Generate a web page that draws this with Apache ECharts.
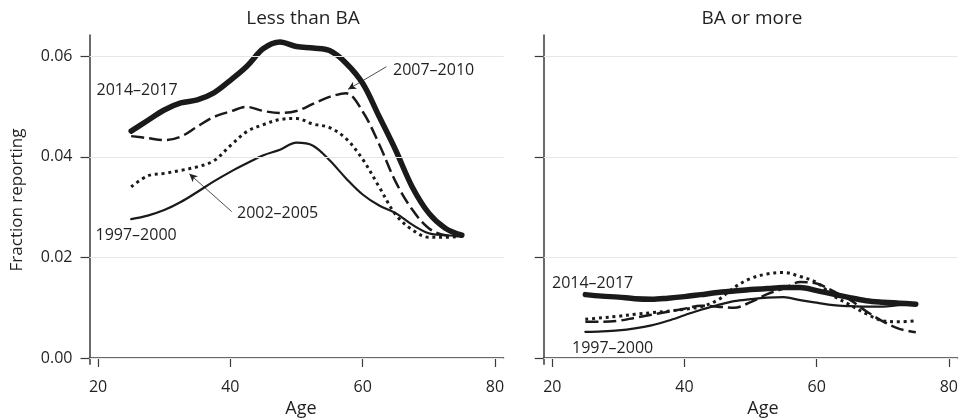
<!DOCTYPE html>
<html>
<head>
<meta charset="utf-8">
<script src="https://cdn.jsdelivr.net/npm/echarts@6/dist/echarts.min.js"></script>
<style>html,body{margin:0;padding:0;background:#fff}#c{width:961px;height:419px}</style>
</head>
<body>
<div id="c"></div>
<script>
var ages = [25,27.5,30,32.5,35,37.5,40,42.5,45,47.5,50,52.5,55,57.5,60,62.5,65,67.5,70,72.5,75];
var panelTitles = ['Less than BA','BA or more'];
var periods = ['1997–2000','2002–2005','2007–2010','2014–2017'];
var xTicks = [20,40,60,80];
var yTicks = [0,0.02,0.04,0.06];
var yTickLabels = ['0.00','0.02','0.04','0.06'];

// Less than BA
var lessBA_1997 = [0.0276,0.0283,0.0294,0.0310,0.0330,0.0351,0.0370,0.0387,0.0403,0.0414,0.0428,0.0422,0.0393,0.0357,0.0325,0.0303,0.0288,0.0265,0.0248,0.0244,0.0243];
var lessBA_2002 = [0.0340,0.0362,0.0367,0.0373,0.0380,0.0392,0.0422,0.0450,0.0464,0.0474,0.0476,0.0465,0.0458,0.0436,0.0395,0.0340,0.0285,0.0255,0.0240,0.0240,0.0242];
var lessBA_2007 = [0.0441,0.0437,0.0433,0.0440,0.0460,0.0479,0.0490,0.0499,0.0491,0.0487,0.0491,0.0505,0.0519,0.0526,0.0490,0.0425,0.0350,0.0295,0.0258,0.0244,0.0242];
var lessBA_2014 = [0.0451,0.0472,0.0493,0.0507,0.0513,0.0527,0.0552,0.0580,0.0615,0.0628,0.0619,0.0616,0.0611,0.0586,0.0546,0.0480,0.0413,0.0340,0.0288,0.0258,0.0244];

// BA or more
var baMore_1997 = [0.0052,0.0053,0.0055,0.0059,0.0065,0.0074,0.0085,0.0096,0.0105,0.0113,0.0117,0.0120,0.0121,0.0115,0.0110,0.0105,0.0103,0.0102,0.0102,0.0105,0.0106];
var baMore_2002 = [0.0077,0.0080,0.0083,0.0087,0.0090,0.0093,0.0097,0.0102,0.0115,0.0140,0.0158,0.0167,0.0170,0.0162,0.0150,0.0124,0.0106,0.0088,0.0074,0.0072,0.0074];
var baMore_2007 = [0.0072,0.0072,0.0074,0.0080,0.0086,0.0092,0.0098,0.0104,0.0102,0.0100,0.0111,0.0127,0.0138,0.0151,0.0148,0.0133,0.0116,0.0093,0.0073,0.0058,0.0051];
var baMore_2014 = [0.0126,0.0123,0.0121,0.0118,0.0117,0.0119,0.0122,0.0126,0.0130,0.0133,0.0136,0.0138,0.0140,0.0140,0.0134,0.0127,0.0120,0.0114,0.0111,0.0109,0.0107];

// arrow annotations (age, value)
var arrow2007 = [[63.6,0.0579],[57.8,0.0534]];
var arrow2002 = [[40.2,0.0291],[33.8,0.0366]];

var FONT = '"Open Sans", "Noto Sans", sans-serif';
var TXT = '#231f20';
var AX = '#3a3a3a';

function pairs(vals){ return ages.map(function(a,i){ return [a, vals[i]]; }); }

var styles = [
  {width:2.2, type:'solid'},
  {width:3, type:[3,3.8], cap:'butt'},
  {width:2.5, type:[13,5], cap:'butt'},
  {width:5.5, type:'solid'}
];

function mkSeries(vals, k, idx){
  return {
    type:'line', xAxisIndex:idx, yAxisIndex:idx, data:pairs(vals),
    showSymbol:false, symbol:'none', smooth:0.35, z:3,
    lineStyle:{color:'#1a1a1a', width:styles[k].width, type:styles[k].type, cap:styles[k].cap||'round', join:'round'},
    silent:true, animation:false
  };
}

function gridSeries(idx){
  return {
    type:'line', xAxisIndex:idx, yAxisIndex:idx, data:[], z:1, silent:true, animation:false,
    markLine:{silent:true, symbol:'none', animation:false, label:{show:false},
      lineStyle:{color:'#e6e6e6', width:1.2, type:'solid'},
      data: yTicks.map(function(v){ return {yAxis:v}; })}
  };
}

var arrowSeries = {
  type:'line', xAxisIndex:0, yAxisIndex:0, data:[], z:4, silent:true, animation:false,
  markLine:{silent:true, animation:false, symbol:['none','arrow'], symbolSize:[6,8], label:{show:false},
    lineStyle:{color:TXT, width:0.8, type:'solid'},
    data:[
      [{coord:arrow2007[0]},{coord:arrow2007[1]}],
      [{coord:arrow2002[0]},{coord:arrow2002[1]}]
    ]}
};

function xAxis(idx){
  return {
    type:'value', gridIndex:idx, min:18.7, max:81.3,
    axisLine:{show:true, lineStyle:{color:AX, width:1.5}},
    axisTick:{show:true, customValues:xTicks, length:9, lineStyle:{color:AX, width:1.2}},
    axisLabel:{customValues:xTicks, margin:15, fontSize:16, fontFamily:FONT, color:TXT},
    splitLine:{show:false}
  };
}
function yAxis(idx){
  return {
    type:'value', gridIndex:idx, min:-0.00125, max:0.0642,
    axisLine:{show:true, lineStyle:{color:AX, width:1.5}},
    axisTick:{show:true, customValues:yTicks, length:9, lineStyle:{color:AX, width:1.2}},
    axisLabel:{show: idx===0, customValues:yTicks, margin:17, fontSize:16, fontFamily:FONT, color:TXT,
      formatter:function(v){ var i = yTicks.indexOf(v); return i>=0 ? yTickLabels[i] : ''; }},
    splitLine:{show:false}
  };
}

function txt(x,y,s,size,extra){
  var o = {type:'text', x:x, y:y, silent:true, style:{text:s, fill:TXT, font: size+'px '+FONT, textAlign:'left', textVerticalAlign:'middle'}};
  if (extra) for (var k in extra) o[k]=extra[k];
  return o;
}

var chart = echarts.init(document.getElementById('c'), null, {renderer:'canvas'});
chart.setOption({
  animation:false,
  backgroundColor:'#fff',
  grid:[
    {left:89.5, right:457.5, top:35, bottom:54.7},
    {left:543.7, right:3.3, top:35, bottom:54.7}
  ],
  xAxis:[xAxis(0), xAxis(1)],
  yAxis:[yAxis(0), yAxis(1)],
  series:[
    gridSeries(0), gridSeries(1),
    mkSeries(lessBA_1997,0,0), mkSeries(lessBA_2002,1,0), mkSeries(lessBA_2007,2,0), mkSeries(lessBA_2014,3,0),
    mkSeries(baMore_1997,0,1), mkSeries(baMore_2002,1,1), mkSeries(baMore_2007,2,1), mkSeries(baMore_2014,3,1),
    arrowSeries
  ],
  graphic:[
    {type:'text', x:303, y:19, silent:true, style:{text:panelTitles[0], fill:TXT, font:'19px '+FONT, textAlign:'center', textVerticalAlign:'middle'}},
    {type:'text', x:752, y:19, silent:true, style:{text:panelTitles[1], fill:TXT, font:'19px '+FONT, textAlign:'center', textVerticalAlign:'middle'}},
    {type:'text', x:301, y:409, silent:true, style:{text:'Age', fill:TXT, font:'18px '+FONT, textAlign:'center', textVerticalAlign:'middle'}},
    {type:'text', x:763, y:409, silent:true, style:{text:'Age', fill:TXT, font:'18px '+FONT, textAlign:'center', textVerticalAlign:'middle'}},
    {type:'text', x:17, y:200, rotation:Math.PI/2, silent:true, style:{text:'Fraction reporting', fill:TXT, font:'17px '+FONT, textAlign:'center', textVerticalAlign:'middle'}},
    txt(96.5, 90, periods[3], 16),
    txt(393, 70, periods[2], 16),
    txt(237, 213, periods[1], 16),
    txt(95.5, 235, periods[0], 16),
    txt(552, 283, periods[3], 16),
    txt(572, 348, periods[0], 16)
  ]
});
</script>
</body>
</html>
